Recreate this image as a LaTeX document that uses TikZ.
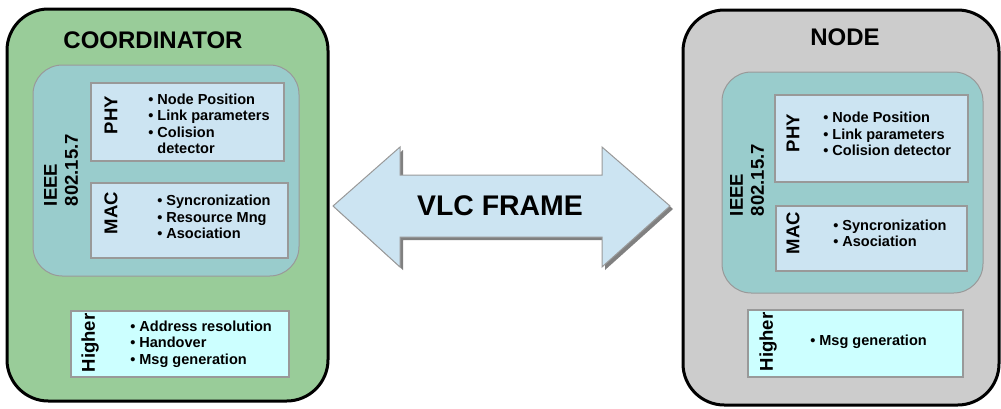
\documentclass[tikz,border=0pt]{standalone}
\usepackage{fontspec}
\setmainfont{Liberation Sans}
\usetikzlibrary{fit}
\definecolor{cgreen}{HTML}{99CC99}
\definecolor{cteal}{HTML}{99CCCC}
\definecolor{cblue}{HTML}{CCE4F2}
\definecolor{ccyan}{HTML}{CCFFFF}
\definecolor{cgray}{HTML}{CCCCCC}
\definecolor{cedge}{HTML}{999999}
\definecolor{cshadow}{HTML}{808080}
\tikzset{
  outerbox/.style={draw=black, line width=2.25pt, rounded corners=31pt, inner sep=0pt},
  ieeebox/.style={draw=cedge, line width=0.75pt, fill=cteal, rounded corners=22pt, inner sep=0pt},
  layerbox/.style={draw=cedge, line width=0.9pt, fill=cblue, inner sep=0pt},
  higherbox/.style={draw=cedge, line width=0.9pt, fill=ccyan, inner sep=0pt},
  vlab/.style={rotate=90, font=\bfseries\fontsize{13.9}{15.8}\selectfont, inner sep=0pt, align=left},
  blist/.style={anchor=west, align=left, inner sep=0pt, font=\bfseries\fontsize{10.9}{12.4}\selectfont},
  titletext/.style={font=\bfseries\fontsize{18}{20}\selectfont, inner sep=0pt},
  arrowshape/.style={fill=cblue, draw=cedge, line width=0.75pt},
  arrowshadow/.style={fill=cshadow},
}
\begin{document}
\begin{tikzpicture}[x=0.75pt, y=-0.75pt]
\useasboundingbox (0,0) rectangle (1001,408);
% ---------- Coordinator ----------
\node[outerbox, fill=cgreen, fit={(7,9) (328,401)}] (coord) {};
\node[titletext] (ctitle) at (153,40) {COORDINATOR};
\node[ieeebox, fit={(33,65) (299,276)}] (cieee) {};
\node[layerbox, fit={(91,83) (284,161)}] (cphy) {};
\node[layerbox, fit={(91,183) (288,258)}] (cmac) {};
\node[higherbox, fit={(71,311) (289,377)}] (chigh) {};
\node[vlab] (cieeel) at (61,170) {IEEE\\802.15.7};
\node[vlab] (cphyl) at (111,115) {PHY};
\node[vlab] (cmacl) at (111,213) {MAC};
\node[vlab] (chighl) at (90,343) {Higher};
\node[blist] (cphyt) at (148,124) {• Node Position\\• Link parameters\\• Colision\\\phantom{• }detector};
\node[blist] (cmact) at (157,217) {• Syncronization\\• Resource Mng\\• Asociation};
\node[blist] (chight) at (130,344) {• Address resolution\\• Handover\\• Msg generation};
% ---------- Node ----------
\node[outerbox, fill=cgray, fit={(683,10) (999,405)}] (nd) {};
\node[titletext] (ntitle) at (845,37) {NODE};
\node[ieeebox, fit={(722,72) (983,293)}] (nieee) {};
\node[layerbox, fit={(775,95) (968,182)}] (nphy) {};
\node[layerbox, fit={(776,206) (967,271)}] (nmac) {};
\node[higherbox, fit={(748,310) (963,377)}] (nhigh) {};
\node[vlab] (nieeel) at (747,180) {IEEE\\802.15.7};
\node[vlab] (nphyl) at (793,133) {PHY};
\node[vlab] (nmacl) at (793,233) {MAC};
\node[vlab] (nhighl) at (768,342) {Higher};
\node[blist] (nphyt) at (823,134) {• Node Position\\• Link parameters\\• Colision detector};
\node[blist] (nmact) at (833,233.5) {• Syncronization\\• Asociation};
\node[blist] (nhight) at (810,342) {• Msg generation};
% ---------- VLC frame arrow ----------
\fill[arrowshadow] (336,209) -- (403,150) -- (403,178) -- (605,178) -- (605,150) -- (673,209) -- (605,270) -- (605,240) -- (403,240) -- (403,270) -- cycle;
\filldraw[arrowshape] (333,206) -- (400,147) -- (400,175) -- (602,175) -- (602,147) -- (670,206) -- (602,267) -- (602,237) -- (400,237) -- (400,267) -- cycle;
\node[font=\bfseries\fontsize{21.3}{24}\selectfont, inner sep=0pt] (vlc) at (500,206) {VLC FRAME};
\end{tikzpicture}
\end{document}
